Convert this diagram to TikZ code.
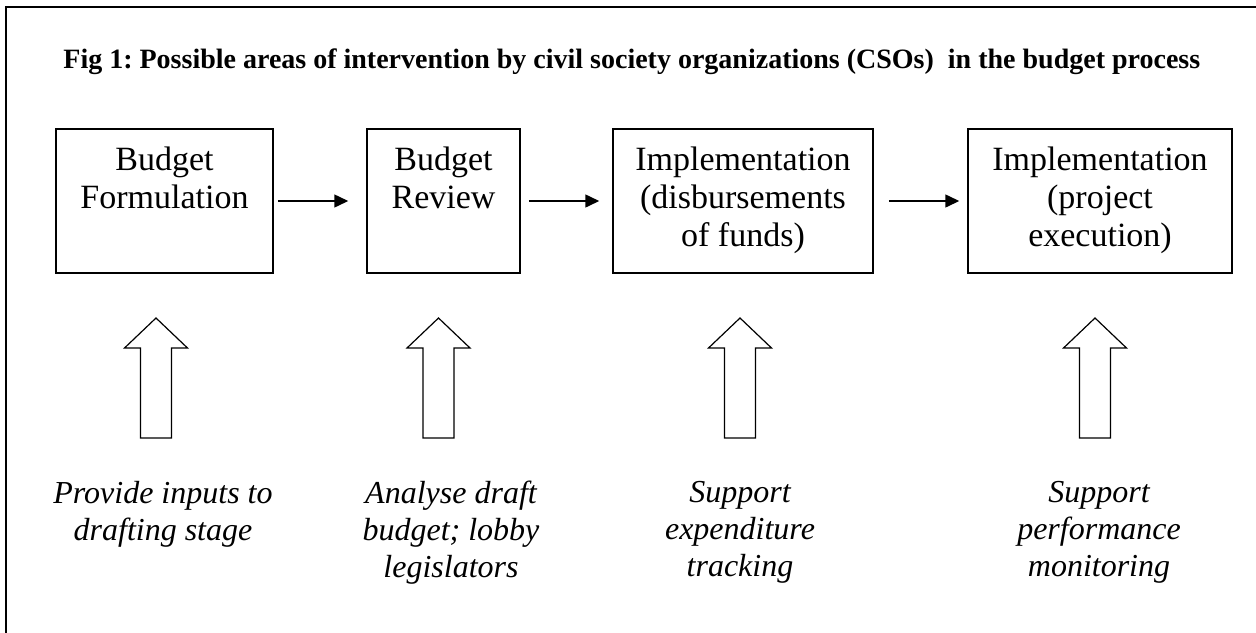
\documentclass[tikz,border=0pt]{standalone}
\usepackage{fontspec}
\setmainfont{Liberation Serif}
\usetikzlibrary{arrows.meta,positioning}
\tikzstyle{box} = [draw, line width=0.75pt, minimum height=72pt, inner sep=0pt]
\tikzstyle{boxtext} = [align=center, inner sep=0pt, font=\fontsize{17}{19}\selectfont]
\tikzstyle{note} = [align=center, inner sep=0pt, anchor=north, font=\fontsize{16}{18.5}\selectfont\itshape]
\tikzstyle{arrow} = [line width=0.75pt,-{Triangle[length=7pt,width=6.5pt]}]
\tikzstyle{uparrow} = [draw, line width=0.6pt]

\begin{document}
\frenchspacing
\begin{tikzpicture}[x=0.5pt,y=-0.5pt]
  \useasboundingbox (0,0) rectangle (1256,632);
  % Frame
  \draw[line width=1pt] (6,640) -- (6,7) -- (1264,7);

  % Title
  \node[anchor=base west, inner sep=0pt, font=\fontsize{14}{16}\selectfont\bfseries] (title) at (63,68)
  {Fig 1: Possible areas of intervention by civil society organizations (CSOs)~ in the budget process};

  % Budget stages
  \node[box, minimum width=108.5pt] (formulation) at (164.5,201) {};
  \node[box, minimum width=76.5pt] (review) at (443.5,201) {};
  \node[box, minimum width=130pt] (disbursement) at (743,201) {};
  \node[box, minimum width=132pt] (execution) at (1100,201) {};

  \node[boxtext, below=9pt of formulation.north] (formulationtext) {Budget\\Formulation};
  \node[boxtext, below=9pt of review.north] (reviewtext) {Budget\\Review};
  \node[boxtext, below=9pt of disbursement.north] (disbursementtext) {Implementation\\(disbursements\\of funds)};
  \node[boxtext, below=9pt of execution.north] (executiontext) {Implementation\\(project\\execution)};

  % Flow between stages
  \draw[arrow, shorten <=2pt, shorten >=9pt] (formulation) -- (review);
  \draw[arrow, shorten <=4pt, shorten >=6.5pt] (review) -- (disbursement);
  \draw[arrow, shorten <=7.5pt, shorten >=4pt] (disbursement) -- (execution);

  % Block arrows
  \foreach \cx in {156,438.5,740,1095}
    \draw[uparrow] (\cx-15.5,438) -- ++(0,-90) -- ++(-16,0) -- (\cx,318)
      -- (\cx+31.5,348) -- ++(-16,0) -- (\cx+15.5,438) -- cycle;

  % Roles of CSOs
  \node[note] (inputs) at (163,481) {Provide inputs to\\drafting stage};
  \node[note] (lobby) at (451,481) {Analyse draft\\budget; lobby\\legislators};
  \node[note] (tracking) at (740,481) {Support\\expenditure\\tracking};
  \node[note] (monitoring) at (1099,481) {Support\\performance\\monitoring};
\end{tikzpicture}
\end{document}
